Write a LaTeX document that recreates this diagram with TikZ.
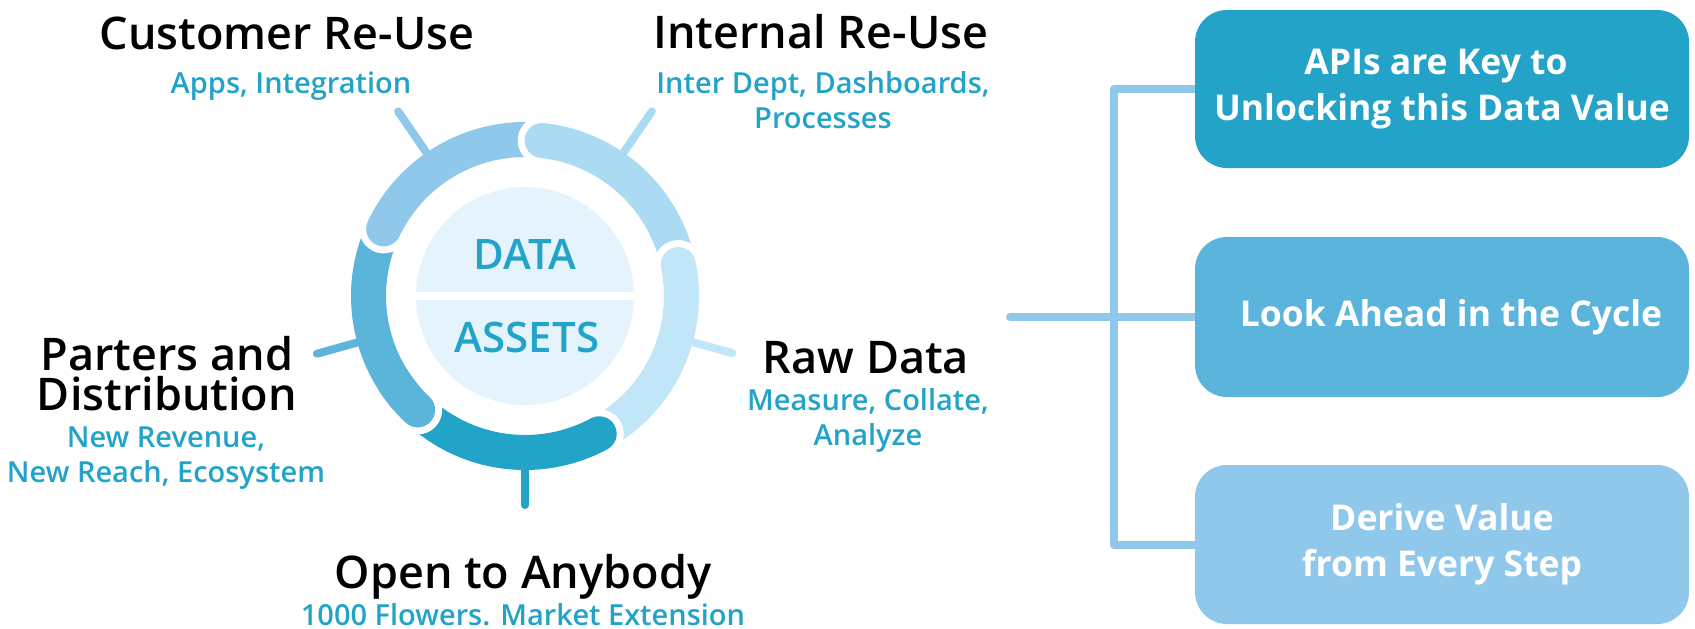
\documentclass[tikz,border=0pt]{standalone}
\usepackage{fontspec}
\setmainfont{Open Sans}
\IfFontExistsTF{Open Sans SemiBold}{\newfontfamily\semi{Open Sans SemiBold}}{%
  \IfFontExistsTF{Open Sans Semibold}{\newfontfamily\semi{Open Sans Semibold}}{%
    \newfontfamily\semi{Open Sans}[FakeBold=1]}}
\usetikzlibrary{backgrounds}
\definecolor{cTL}{HTML}{90C8EC}
\definecolor{cTR}{HTML}{ABDBF3}
\definecolor{cR}{HTML}{C0E6F8}
\definecolor{cB}{HTML}{22A3C8}
\definecolor{cL}{HTML}{5BB5DA}
\definecolor{cDisc}{HTML}{E4F3FC}
\definecolor{cBlue}{HTML}{22A3C8}
\definecolor{cBoxA}{HTML}{23A3C8}
\definecolor{cBoxB}{HTML}{5BB4DB}
\definecolor{cBoxC}{HTML}{90C8EC}
\definecolor{cConn}{HTML}{90C8EC}
\newcommand\ringseg[3]{%
  \draw[white, line width=49pt, line cap=round] (c) ++(#2:156.5pt) arc[start angle=#2, end angle=#3, radius=156.5pt];
  \draw[#1, line width=35pt, line cap=round] (c) ++(#2:156.5pt) arc[start angle=#2, end angle=#3, radius=156.5pt];}
\begin{document}
\begin{tikzpicture}[x=1pt,y=1pt,
  head/.style={anchor=base, text=black, inner sep=0pt, align=center, font=\semi\fontsize{45}{40}\selectfont},
  sub/.style={anchor=base, text=cBlue, inner sep=0pt, align=center, font=\semi\fontsize{29}{35}\selectfont},
  midtext/.style={anchor=base, text=cBlue, inner sep=0pt, font=\semi\fontsize{42}{42}\selectfont},
  box/.style={rounded corners=32pt, minimum width=494pt, inner sep=0pt, text=white, align=center, font=\bfseries\fontsize{35.5}{46}\selectfont},
  tick/.style={line width=8pt, line cap=round},
  conn/.style={line width=8pt, draw=cConn, line cap=round, line join=round}]
\useasboundingbox (0,0) rectangle (1695,-629);
% ring
\coordinate (c) at (525,-296);
\ringseg{cL}{226.7}{158}
\ringseg{cTL}{154.6}{86}
\ringseg{cTR}{83.7}{14}
\ringseg{cR}{11.6}{-58}
\ringseg{cB}{-61.7}{-130}
\path (c) ++(226.7:156.5pt) coordinate (lstart);
\fill[white] (lstart) circle[radius=24.5pt];
\fill[cL] (lstart) circle[radius=17.5pt];
\draw[cL, line width=35pt] (lstart) arc[start angle=226.7, end angle=212, radius=156.5pt];
% ticks
\path (c) ++(124.5:174pt) coordinate (t1a) ++(124.5:50pt) coordinate (t1b);
\path (c) ++(55.5:174pt) coordinate (t2a) ++(55.5:50pt) coordinate (t2b);
\path (c) ++(-15.4:174pt) coordinate (t3a) ++(-15.4:41pt) coordinate (t3b);
\path (c) ++(-90:174pt) coordinate (t4a) ++(-90:35pt) coordinate (t4b);
\path (c) ++(195.5:174pt) coordinate (t5a) ++(195.5:42pt) coordinate (t5b);
\draw[tick, cTL] (t1a) -- (t1b);
\draw[tick, cTR] (t2a) -- (t2b);
\draw[tick, cR] (t3a) -- (t3b);
\draw[tick, cB] (t4a) -- (t4b);
\draw[tick, cL] (t5a) -- (t5b);
% inner disc
\node[circle, fill=cDisc, minimum size=218pt, inner sep=0pt] (disc) at (c) {};
\draw[white, line width=8pt] (disc.west) -- (disc.east);
\node[midtext] (data) at (525,-269) {DATA};
\node[midtext] (assets) at (527,-352) {ASSETS};
% labels (base = last line)
\node[head] (h1) at (287,-49) {Customer Re-Use};
\node[sub] (s1) at (291,-93) {Apps, Integration};
\node[head] (h2) at (821,-48) {Internal Re-Use};
\node[sub] (s2) at (823,-128) {Inter Dept, Dashboards,\\Processes};
\node[head] (h3) at (866,-373) {Raw Data};
\node[sub] (s3) at (868,-445) {Measure, Collate,\\Analyze};
\node[head] (h4) at (523,-588) {Open to Anybody};
\node[sub] (s4) at (523,-625) {1000 Flowers. Market Extension};
\node[head] (h5) at (167,-410) {Parters and\\Distribution};
\node[sub] (s5) at (166,-482) {New Revenue,\\New Reach, Ecosystem};
% boxes
\node[box, fill=cBoxA, minimum height=158pt] (b1) at (1442,-89) {APIs are Key to\hspace*{12pt}\\Unlocking this Data Value};
\node[box, fill=cBoxB, minimum height=160pt] (b2) at (1442,-317) {\hspace*{18pt}Look Ahead in the Cycle};
\node[box, fill=cBoxC, minimum height=159pt] (b3) at (1442,-544.5) {Derive Value\\from Every Step};
\coordinate (hub) at (1010,-317);
\begin{scope}[on background layer]
\draw[conn] (b1.west) -- ++(-81,0) |- (b3.west);
\draw[conn] (hub) -- (b2.west);
\end{scope}
\end{tikzpicture}
\end{document}
